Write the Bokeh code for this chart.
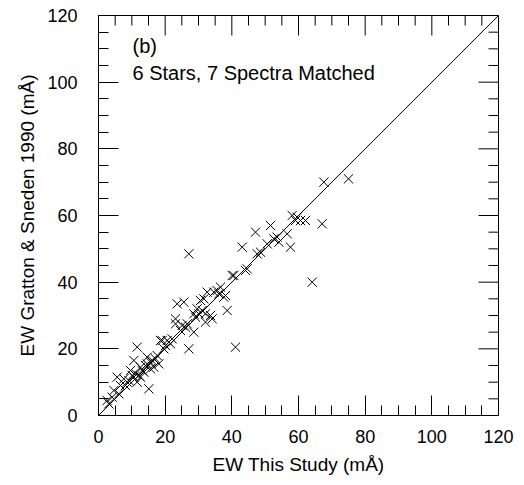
from bokeh.plotting import figure
from bokeh.models import SingleIntervalTicker, Label, Range1d, ColumnDataSource
from bokeh.embed import file_html
from bokeh.resources import INLINE

# EW This Study (mÅ)
ew_this = [75.0, 67.6, 67.1, 64.1, 62.1, 60.6, 59.6, 59.1, 58.1, 57.6,
           56.6, 54.1, 53.6, 52.6, 51.6, 47.1, 47.6, 43.1, 44.6, 44.1,
           40.6, 40.1, 38.6, 38.1, 37.6, 36.6, 34.6, 34.1, 33.6, 32.6,
           32.1, 32.1, 31.6, 30.6, 29.6, 28.6, 28.6, 27.1, 27.1, 26.6,
           25.6, 24.6, 23.6, 23.1, 23.1, 41.1, 20.6, 20.1, 19.1, 18.6,
           17.6, 16.6, 15.6, 15.1, 14.6, 13.6, 12.6, 11.6, 11.6, 10.6,
           10.6, 9.6, 8.6, 7.6, 6.6, 5.6, 4.6, 4.1, 2.6, 18.1,
           12.1, 13.1, 14.1, 16.1, 9.1, 11.1, 12.6, 10.1, 8.1, 15.6,
           17.1, 21.6, 22.1, 25.1, 26.1, 30.1, 35.6, 36.1, 48.6, 50.6,
           6.1, 3.1, 14.6, 19.6, 29.1, 31.1]
# EW Gratton & Sneden 1990 (mÅ)
ew_gs = [71.0, 70.0, 57.5, 40.0, 58.5, 58.5, 59.5, 58.5, 60.0, 50.5,
         54.5, 52.0, 53.5, 53.0, 57.0, 55.0, 48.5, 50.5, 44.0, 43.5,
         42.0, 42.0, 31.5, 36.0, 35.5, 38.5, 37.0, 29.0, 30.0, 37.0,
         30.5, 28.0, 35.0, 34.5, 32.0, 30.5, 25.0, 48.5, 20.0, 27.5,
         34.0, 25.5, 33.5, 29.0, 27.5, 20.5, 22.5, 21.0, 22.5, 22.5,
         18.0, 14.5, 16.0, 8.0, 17.5, 13.0, 14.5, 20.5, 10.0, 16.5,
         11.5, 13.5, 10.0, 11.0, 9.0, 11.5, 7.5, 5.5, 4.5, 15.5,
         12.0, 13.5, 15.0, 16.5, 10.5, 12.5, 11.5, 12.0, 9.0, 14.0,
         17.0, 21.5, 23.0, 27.0, 26.5, 30.5, 37.5, 36.5, 49.0, 51.5,
         6.5, 3.5, 15.5, 20.0, 29.5, 31.5]

ref_line = [0, 120]
major_ticks = [0, 20, 40, 60, 80, 100, 120]
minor_ticks = [5, 10, 15, 25, 30, 35, 45, 50, 55, 65, 70, 75,
               85, 90, 95, 105, 110, 115]
x_label = "EW This Study (mÅ)"
y_label = "EW Gratton & Sneden 1990 (mÅ)"
note1 = "(b)"
note2 = "6 Stars, 7 Spectra Matched"

LO, HI = 0, 120
MAJ_LEN, MIN_LEN = 6.0, 3.0   # tick lengths in data units (~20px, ~10px)

p = figure(frame_width=400, frame_height=400,
           x_range=Range1d(LO, HI), y_range=Range1d(LO, HI),
           output_backend="svg", toolbar_location=None,
           min_border_left=98, min_border_right=26,
           min_border_top=15, min_border_bottom=70,
           x_axis_label=x_label, y_axis_label=y_label)
p.grid.visible = False
p.outline_line_color = "black"

for ax in list(p.xaxis) + list(p.yaxis):
    ax.ticker = SingleIntervalTicker(interval=20, num_minor_ticks=4)
    ax.major_tick_in = 20
    ax.major_tick_out = 0
    ax.minor_tick_in = 10
    ax.minor_tick_out = 0
    ax.major_tick_line_color = "black"
    ax.minor_tick_line_color = "black"
    ax.axis_line_color = "black"
    ax.major_label_text_font_size = "18px"
    ax.major_label_text_color = "black"
    ax.axis_label_text_font_size = "19px"
    ax.axis_label_text_font_style = "normal"
    ax.axis_label_text_color = "black"
for ax in p.xaxis:
    ax.major_label_standoff = 14
    ax.axis_label_standoff = 8
for ax in p.yaxis:
    ax.major_label_standoff = 21
    ax.axis_label_standoff = 6

# top / right: inward ticks drawn as segments from the tick lists
tx0, ty0, tx1, ty1 = [], [], [], []
for vals, length in [(major_ticks, MAJ_LEN), (minor_ticks, MIN_LEN)]:
    for v in vals:
        tx0 += [float(v), float(HI)]
        tx1 += [float(v), float(HI - length)]
        ty0 += [float(HI), float(v)]
        ty1 += [float(HI - length), float(v)]
tick_src = ColumnDataSource(dict(x0=tx0, y0=ty0, x1=tx1, y1=ty1))
p.segment(x0="x0", y0="y0", x1="x1", y1="y1", source=tick_src,
          line_color="black", line_width=1)

p.line(ref_line, ref_line, line_color="black", line_width=1)
p.scatter(ew_this, ew_gs, marker="x", size=13, line_color="black", line_width=1)

for txt, yy in [(note1, 107.6), (note2, 99.4)]:
    p.add_layout(Label(x=10.2, y=yy, text=txt, text_font="Liberation Sans",
                       text_font_size="20px", text_color="black"))

open("out.html", "w").write(file_html(p, INLINE))
